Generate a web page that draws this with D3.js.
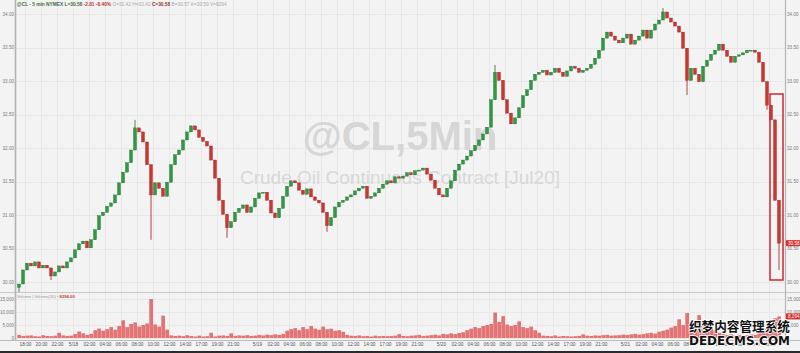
<!DOCTYPE html>
<html><head><meta charset="utf-8">
<script src="https://cdn.jsdelivr.net/npm/d3@7"></script>
<style>html,body{margin:0;padding:0;background:#f3f3f3;overflow:hidden}svg{display:block}</style>
</head><body>
<svg id="c" width="800" height="353"></svg>
<script>
// ---- data (30-minute bars) ----
const firstOpen = 29.92;
const closes = [
 29.97,30.18,30.28,30.24,30.30,30.21,30.25,30.21,30.09,30.15,
 30.24,30.21,30.30,30.36,30.48,30.57,30.61,30.51,30.63,30.78,
 30.99,31.04,31.13,31.18,31.30,31.48,31.64,31.78,31.97,32.30,
 32.24,32.09,31.75,31.30,31.48,31.40,31.28,31.49,31.75,31.90,
 31.97,32.12,32.24,32.33,32.27,32.16,32.10,32.03,31.82,31.55,
 31.22,31.01,30.81,30.90,31.04,31.10,31.15,31.04,31.12,31.25,
 31.33,31.34,31.22,31.03,30.96,31.10,31.28,31.43,31.51,31.48,
 31.37,31.31,31.39,31.27,31.22,31.18,31.04,30.84,30.96,31.12,
 31.19,31.22,31.27,31.30,31.36,31.40,31.43,31.25,31.28,31.33,
 31.40,31.46,31.51,31.48,31.57,31.55,31.58,31.63,31.60,31.66,
 31.67,31.70,31.61,31.52,31.40,31.30,31.27,31.40,31.51,31.67,
 31.76,31.82,31.88,31.96,32.04,32.12,32.21,32.31,32.72,33.13,
 33.01,32.72,32.52,32.36,32.45,32.60,32.78,32.87,33.01,33.10,
 33.13,33.16,33.09,33.13,33.19,33.13,33.07,33.15,33.22,33.19,
 33.13,33.16,33.19,33.25,33.34,33.46,33.64,33.73,33.67,33.61,
 33.57,33.64,33.70,33.55,33.61,33.67,33.76,33.64,33.76,33.85,
 33.91,34.03,33.94,33.88,33.82,33.73,33.49,33.01,33.19,33.10,
 32.99,33.22,33.31,33.40,33.46,33.55,33.46,33.37,33.28,33.37,
 33.39,33.42,33.46,33.46,33.43,33.28,32.99,32.64,32.42,31.22,
 30.58
];
// notable wick extremes: [bar index, price]
const wickLows  = [[0,29.85],[8,30.03],[33,30.63],[52,30.66],[77,30.75],[167,32.79],[187,32.57],[190,30.18]];
const wickHighs = [[29,32.42],[119,33.24],[161,34.09]];
const volumes = [
 1200,800,900,1000,700,600,1100,800,700,900,2000,1000,800,900,
 1500,2500,1800,1200,1600,
 3000,3600,2800,3400,4200,3200,4600,6800,4200,5400,6000,4400,5000,5600,15000,5200,4400,8600,3200,
 1000,800,900,700,1100,800,600,900,
 600,700,2000,600,900,1000,800,1800,800,1000,900,1100,800,900,
 1200,1000,1300,1100,1400,1200,1600,
 2800,3400,3800,3000,4200,3400,4600,3600,3200,4400,3400,3600,2800,3000,2400,
 1200,900,800,1000,700,800,600,900,700,800,
 700,800,900,1500,800,700,900,1000,1200,800,900,1100,1300,1000,
 1600,1400,1800,1500,1900,2200,
 3000,3600,4200,3800,4600,5000,5400,9800,6200,8400,5200,4600,5000,6400,4200,3800,4400,3000,2000,
 900,800,700,1000,600,800,700,
 600,700,800,1400,900,800,1000,900,1100,1200,900,1000,1100,1300,
 1200,1400,1600,1300,1500,1800,2000,1700,2400,2800,3200,
 4000,4600,7200,5000,9600,5800,6400,8800,5200,4400,3800,3000,
 2000,1500,1200,1400,1000,1200,900,1100,1300,
 1200,1800,2600,3800,5500,7600,8294
];
const priceTicks = [34.00,33.50,33.00,32.50,32.00,31.50,31.00,30.50,30.00];
const volumeTicks = [15000,10000,5000,0];
const tickHours = [1,3,5,7,9,11,13,15,17,19,21,
  23,25,27,30,32,34,36,38,40,42,44,
  46,48,50,53,55,57,59,61,63,65,67,
  69,71,73,76,78,80,82,84,86,88,90,
  92,94];
const tickLabels = ["18:00","20:00","22:00","5/18","02:00","04:00","06:00","08:00","10:00","12:00","14:00",
  "17:00","19:00","21:00","5/19","02:00","04:00","06:00","08:00","10:00","12:00","14:00",
  "17:00","19:00","21:00","5/20","02:00","04:00","06:00","08:00","10:00","12:00","14:00",
  "17:00","19:00","21:00","5/21","02:00","04:00","06:00","08:00","10:00","12:00","14:00",
  "17:00","19:00"];
const lastPrice = closes[closes.length-1];
const lastVolume = volumes[volumes.length-1];

// ---- chart ----
const svg = d3.select("#c");
const F = "'Liberation Sans', Arial, sans-serif";
const x = d3.scaleLinear().domain([0, 95.5]).range([17, 781]);
const yP = d3.scaleLinear().domain([30, 34]).range([282, 14]);
const yV = d3.scaleLinear().domain([0, 15000]).range([338, 299]);
const barH = 0.5;

svg.append("rect").attr("width",800).attr("height",353).attr("fill","#f3f3f3");

// grid
const g = svg.append("g");
g.selectAll(".vg").data(tickHours).join("line")
  .attr("x1",d=>Math.round(x(d))+0.5).attr("x2",d=>Math.round(x(d))+0.5)
  .attr("y1",0).attr("y2",340).attr("stroke","#e7e7e7").attr("stroke-width",1);
g.selectAll(".hg").data(priceTicks).join("line")
  .attr("x1",16).attr("x2",785).attr("y1",d=>Math.round(yP(d))+0.5).attr("y2",d=>Math.round(yP(d))+0.5)
  .attr("stroke","#e7e7e7");
g.selectAll(".hv").data(volumeTicks).join("line")
  .attr("x1",16).attr("x2",785).attr("y1",d=>Math.round(yV(d))+0.5).attr("y2",d=>Math.round(yV(d))+0.5)
  .attr("stroke","#e9e9e9");

// watermark
svg.append("text").attr("x",400).attr("y",150).attr("text-anchor","middle")
  .attr("font-family",F).attr("font-weight","bold").attr("font-size",40).attr("fill","#d6d6d6").text("@CL,5Min");
svg.append("text").attr("x",400).attr("y",184).attr("text-anchor","middle")
  .attr("font-family",F).attr("font-size",19).attr("fill","#d8d8d8").text("Crude Oil Continuous Contract [Jul20]");

// pane separators and axis lines
svg.append("line").attr("x1",0).attr("x2",800).attr("y1",292.5).attr("y2",292.5).attr("stroke","#c8c8c8");
svg.append("line").attr("x1",0).attr("x2",800).attr("y1",340.5).attr("y2",340.5).attr("stroke","#bdbdbd");
svg.append("line").attr("x1",15.5).attr("x2",15.5).attr("y1",0).attr("y2",340).attr("stroke","#b4b4b4").attr("stroke-width",1.6);
svg.append("line").attr("x1",785.5).attr("x2",785.5).attr("y1",0).attr("y2",340).attr("stroke","#b4b4b4").attr("stroke-width",1.2);
svg.append("rect").attr("x",0).attr("y",351).attr("width",800).attr("height",2).attr("fill","#2a2a2a");

// volume bars
svg.append("g").selectAll("rect").data(volumes).join("rect")
  .attr("x",(d,i)=>x(i*barH)+0.3).attr("width",x(barH)-x(0)-0.3)
  .attr("y",d=>yV(d)).attr("height",d=>yV(0)-yV(d))
  .attr("fill","#e27475");

// candles
const bars = closes.map((c,i)=>{
  const o = i===0 ? firstOpen : closes[i-1];
  let lo = Math.min(o,c), hi = Math.max(o,c);
  wickLows.forEach(w=>{ if(w[0]===i) lo = Math.min(lo,w[1]); });
  wickHighs.forEach(w=>{ if(w[0]===i) hi = Math.max(hi,w[1]); });
  return {i,o,c,lo,hi};
});
const cg = svg.append("g");
cg.selectAll("line").data(bars).join("line")
  .attr("x1",d=>x(d.i*barH+barH/2)).attr("x2",d=>x(d.i*barH+barH/2))
  .attr("y1",d=>yP(d.hi)).attr("y2",d=>yP(d.lo))
  .attr("stroke",d=>d.c>=d.o?"#3b7d3a":"#a8322d").attr("stroke-width",0.9);
cg.selectAll("rect").data(bars).join("rect")
  .attr("x",d=>x(d.i*barH)+0.5).attr("width",x(barH)-x(0)-1)
  .attr("y",d=>yP(Math.max(d.o,d.c))).attr("height",d=>Math.max(1,Math.abs(yP(d.o)-yP(d.c))))
  .attr("fill",d=>d.c>=d.o?"#2f9a45":"#cc3631")
  .attr("stroke",d=>d.c>=d.o?"#2a6e33":"#9e2a26").attr("stroke-width",0.4);

// highlight box
svg.append("rect").attr("x",770).attr("y",94).attr("width",13).attr("height",186)
  .attr("fill","none").attr("stroke","#d0323c").attr("stroke-width",1.6);

// axes
function styleAxis(sel, anchor){
  sel.select(".domain").remove();
  sel.selectAll("text").attr("font-family",F).attr("font-size",4.6).attr("fill","#7a7a7a");
  if(anchor) sel.selectAll("text").attr("text-anchor",anchor);
}
svg.append("g").attr("transform","translate(14,0)")
  .call(d3.axisLeft(yP).tickValues(priceTicks).tickSize(0).tickPadding(0).tickFormat(d3.format(".2f")))
  .call(s=>styleAxis(s));
svg.append("g").attr("transform","translate(787,0)")
  .call(d3.axisRight(yP).tickValues(priceTicks).tickSize(0).tickPadding(0).tickFormat(d3.format(".2f")))
  .call(s=>styleAxis(s));
svg.append("g").attr("transform","translate(14,0)")
  .call(d3.axisLeft(yV).tickValues(volumeTicks).tickSize(0).tickPadding(0).tickFormat(d3.format(",")))
  .call(s=>styleAxis(s));
svg.append("g").attr("transform","translate(787,0)")
  .call(d3.axisRight(yV).tickValues(volumeTicks).tickSize(0).tickPadding(0).tickFormat(d3.format(",")))
  .call(s=>styleAxis(s));
svg.append("g").attr("transform","translate(0,343)")
  .call(d3.axisBottom(x).tickValues(tickHours).tickSize(0).tickPadding(0).tickFormat((d,i)=>tickLabels[i]))
  .call(s=>{styleAxis(s); s.selectAll("text").attr("fill","#555").attr("font-size",4.8);});

// last value labels
svg.append("rect").attr("x",786).attr("y",yP(lastPrice)-3).attr("width",14).attr("height",6).attr("fill","#d9312f");
svg.append("text").attr("x",788).attr("y",yP(lastPrice)+1.7).attr("font-family",F).attr("font-size",4.6)
  .attr("fill","#fff").text(lastPrice.toFixed(2));
svg.append("rect").attr("x",786).attr("y",yV(lastVolume)-3).attr("width",14).attr("height",6).attr("fill","#d9312f");
svg.append("text").attr("x",788).attr("y",yV(lastVolume)+1.7).attr("font-family",F).attr("font-size",4.6)
  .attr("fill","#fff").text(d3.format(",")(lastVolume));

// header line
const hdr = svg.append("text").attr("x",17).attr("y",6).attr("font-family",F).attr("font-size",4.8).attr("font-weight","bold");
hdr.append("tspan").attr("fill","#3e6b3e").text("@CL - 5 min NYMEX ");
hdr.append("tspan").attr("fill","#3e6b3e").text("L="+lastPrice.toFixed(2)+" ");
hdr.append("tspan").attr("fill","#c0392b").text("-2.81 -8.40% ");
hdr.append("tspan").attr("fill","#aaa").attr("font-weight","normal").text("O=32.42 H=32.42 ");
hdr.append("tspan").attr("fill","#8a3a2a").text("C="+lastPrice.toFixed(2)+" ");
hdr.append("tspan").attr("fill","#aaa").attr("font-weight","normal").text("B=30.57 A=30.59 V=8294");

// volume header
const vh = svg.append("text").attr("x",17).attr("y",298).attr("font-family",F).attr("font-size",4.2);
vh.append("tspan").attr("fill","#9a9a9a").text("Volume | Volume(20) • ");
vh.append("tspan").attr("fill","#d0323c").attr("font-weight","bold").text(d3.format(".2f")(lastVolume));

// site watermark
svg.append("text").attr("x",689).attr("y",331).attr("font-family","'Noto Sans CJK SC', sans-serif")
  .attr("font-weight","bold").attr("font-size",13).attr("textLength",101).attr("lengthAdjust","spacingAndGlyphs")
  .attr("fill","#111").attr("stroke","#fff").attr("stroke-width",1.5).attr("paint-order","stroke").text("织梦内容管理系统");
svg.append("text").attr("x",689).attr("y",345).attr("font-family","'DejaVu Sans', sans-serif")
  .attr("font-weight","bold").attr("font-size",12.5).attr("textLength",101).attr("lengthAdjust","spacingAndGlyphs")
  .attr("fill","#111").attr("stroke","#fff").attr("stroke-width",1.5).attr("paint-order","stroke").text("DEDECMS.COM");
</script>
</body></html>
